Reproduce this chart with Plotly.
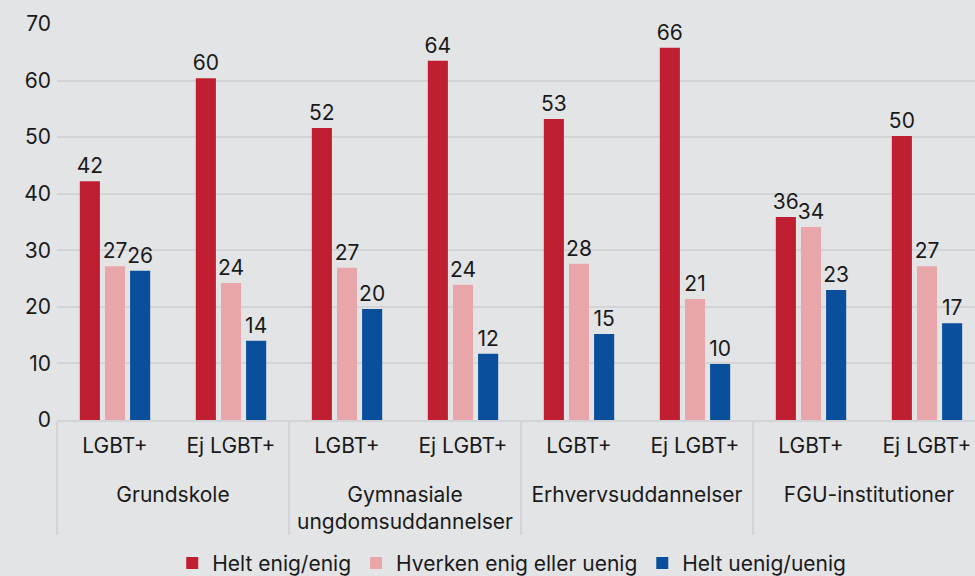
import plotly.graph_objects as go

# Institution groups and respondent groups
institutions = ["Grundskole", "Gymnasiale<br>ungdomsuddannelser", "Erhvervsuddannelser", "FGU-institutioner"]
groups = ["LGBT+", "Ej LGBT+"]

enig = [42.2, 60.4, 51.6, 63.5, 53.2, 65.8, 35.9, 50.2]
hverken = [27.2, 24.2, 26.9, 23.9, 27.6, 21.4, 34.1, 27.2]
uenig = [26.4, 14.0, 19.6, 11.7, 15.2, 9.9, 23.0, 17.1]

# leading break pushes the outer labels down, as in the original
outer = ["<br>" + inst for inst in institutions for _ in groups]
inner = [g for _ in institutions for g in groups]
x = [outer, inner]

bg = "#e3e4e6"
font = "Inter, Noto Sans, sans-serif"
fs = 21

series = [
    ("Helt enig/enig", enig, "#c01f32"),
    ("Hverken enig eller uenig", hverken, "#e8a6ab"),
    ("Helt uenig/uenig", uenig, "#0a4f9c"),
]

fig = go.Figure()
for name, vals, col in series:
    fig.add_trace(go.Bar(
        x=x, y=vals, name=name,
        marker=dict(color=col, line=dict(width=0)),
        text=vals, texttemplate="%{y:.0f}", textposition="outside",
        textfont=dict(size=fs, color="#1a1a1a"),
        constraintext="none", cliponaxis=False,
    ))

# the original is cut off slightly at the right edge, so the figure is a bit wider than the window
fig.update_layout(
    width=985, height=576,
    barmode="group", bargap=0.35, bargroupgap=0.2,
    paper_bgcolor=bg, plot_bgcolor=bg,
    font=dict(family=font, size=fs, color="#1a1a1a"),
    margin=dict(l=57, r=0, t=24, b=156),
    legend=dict(orientation="h", x=0.49, xanchor="center", y=0.022, yref="container",
                yanchor="middle", font=dict(size=fs), itemwidth=30,
                traceorder="normal"),
    showlegend=True,
)
fig.update_yaxes(range=[0, 70], dtick=10, showgrid=True, gridcolor="#d3d4d7",
                 gridwidth=2, zeroline=False, ticks="", ticklabelstandoff=5,
                 tickfont=dict(size=fs))
fig.update_xaxes(type="multicategory", showline=True, linecolor="#d3d4d7", linewidth=2,
                 showdividers=True, dividercolor="#d3d4d7", dividerwidth=2,
                 tickfont=dict(size=fs), ticks="", ticklabelstandoff=6)

fig.write_html("out.html", config={"displayModeBar": False},
               post_script="document.body.style.margin='0';document.body.style.overflow='hidden';")
